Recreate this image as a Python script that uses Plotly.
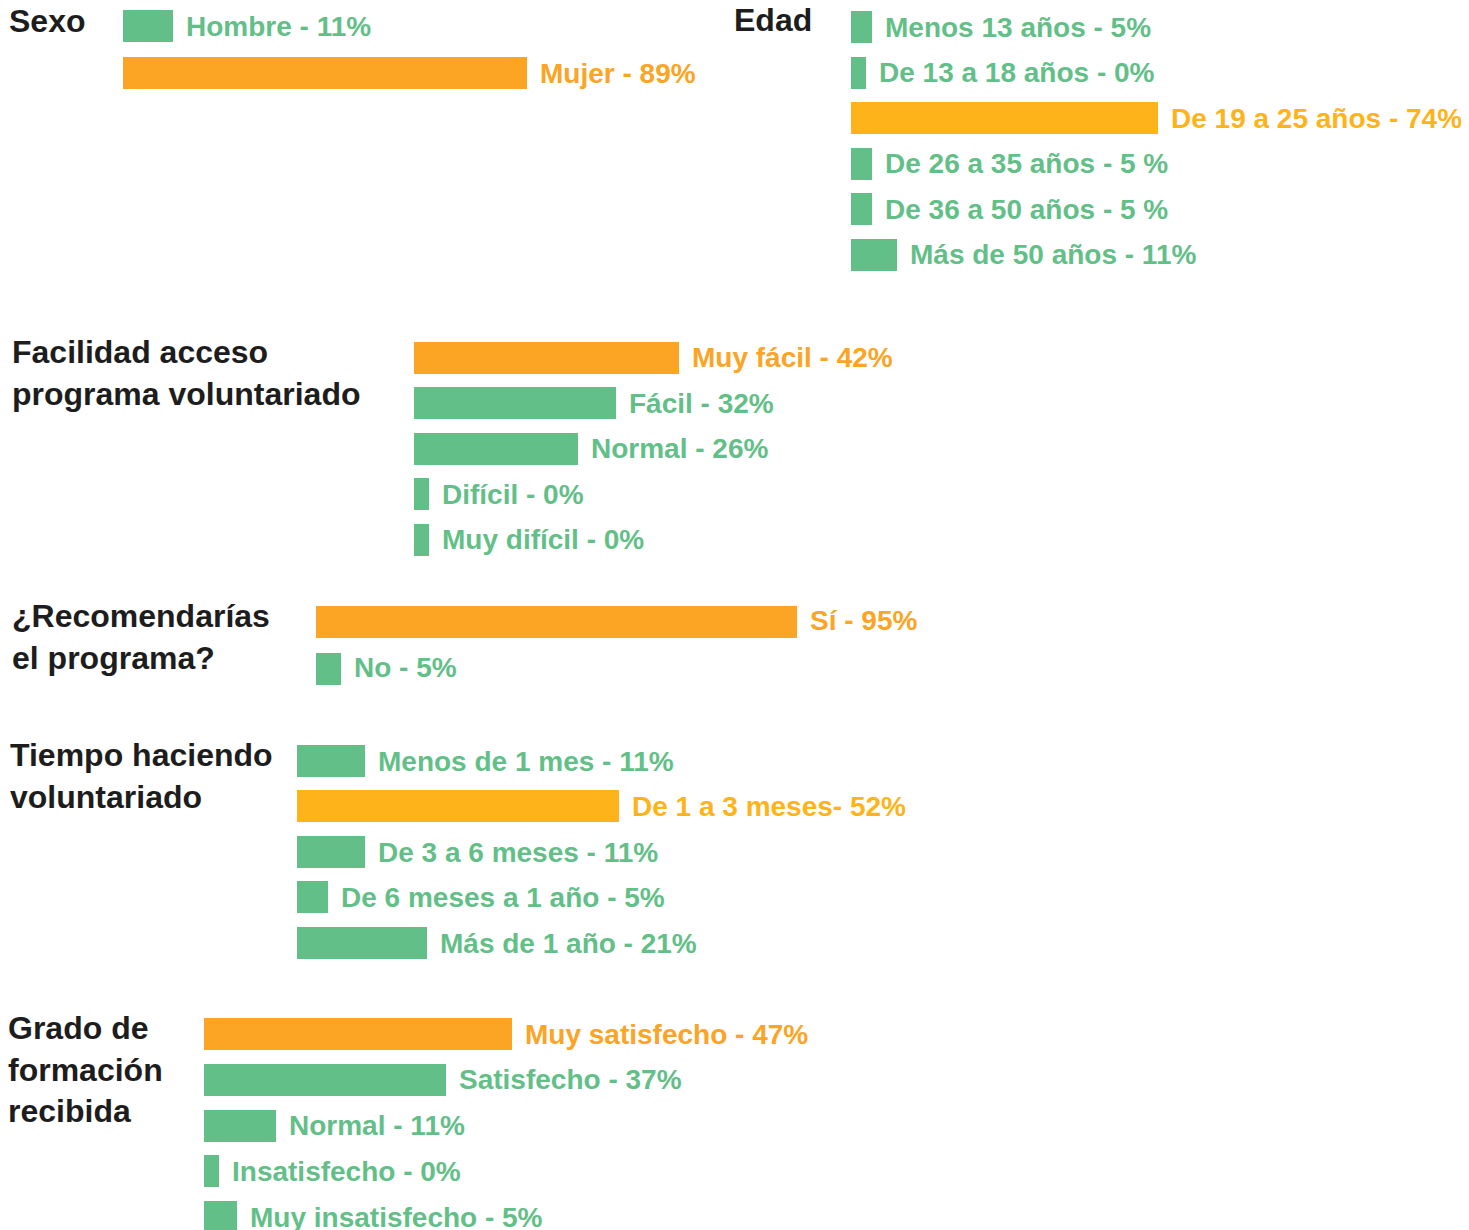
import plotly.graph_objects as go

# The page body adds an 8px margin; the figure is placed accordingly.
OFF = 8
W, H = 1469 - OFF, 1230 - OFF

GREEN = "#63BF88"
ORANGE = "#FCA424"
YELLOW = "#FFB31B"

# ---------------- data ----------------
sexo_title = "Sexo"
sexo_labels = ["Hombre - 11%", "Mujer - 89%"]
sexo_values = [11, 89]
sexo_colors = [GREEN, ORANGE]

edad_title = "Edad"
edad_labels = ["Menos 13 años - 5%", "De 13 a 18 años - 0%", "De 19 a 25 años - 74%",
               "De 26 a 35 años - 5 %", "De 36 a 50 años - 5 %", "Más de 50 años - 11%"]
edad_values = [5, 0, 74, 5, 5, 11]
edad_colors = [GREEN, GREEN, YELLOW, GREEN, GREEN, GREEN]

acceso_title = "Facilidad acceso<br>programa voluntariado"
acceso_labels = ["Muy fácil - 42%", "Fácil - 32%", "Normal - 26%", "Difícil - 0%", "Muy difícil - 0%"]
acceso_values = [42, 32, 26, 0, 0]
acceso_colors = [ORANGE, GREEN, GREEN, GREEN, GREEN]

recom_title = "¿Recomendarías<br>el programa?"
recom_labels = ["Sí - 95%", "No - 5%"]
recom_values = [95, 5]
recom_colors = [ORANGE, GREEN]

tiempo_title = "Tiempo haciendo<br>voluntariado"
tiempo_labels = ["Menos de 1 mes - 11%", "De 1 a 3 meses- 52%", "De 3 a 6 meses - 11%",
                 "De 6 meses a 1 año - 5%", "Más de 1 año - 21%"]
tiempo_values = [11, 52, 11, 5, 21]
tiempo_colors = [GREEN, YELLOW, GREEN, GREEN, GREEN]

grado_title = "Grado de<br>formación<br>recibida"
grado_labels = ["Muy satisfecho - 47%", "Satisfecho - 37%", "Normal - 11%",
                "Insatisfecho - 0%", "Muy insatisfecho - 5%"]
grado_values = [47, 37, 11, 0, 5]
grado_colors = [ORANGE, GREEN, GREEN, GREEN, GREEN]

# ---------------- layout (page pixels) ----------------
# x0: bar start, s: px per %, c0: first row centre, p: row pitch, tx/ty: title position
groups = [
    dict(title=sexo_title, labels=sexo_labels, values=sexo_values, colors=sexo_colors,
         x0=123, s=4.54, c0=26, p=47, tx=7, ty=1),
    dict(title=edad_title, labels=edad_labels, values=edad_values, colors=edad_colors,
         x0=851, s=4.15, c0=27, p=45.5, tx=732, ty=0),
    dict(title=acceso_title, labels=acceso_labels, values=acceso_values, colors=acceso_colors,
         x0=414, s=6.3, c0=358, p=45.5, tx=10, ty=332),
    dict(title=recom_title, labels=recom_labels, values=recom_values, colors=recom_colors,
         x0=316, s=5.06, c0=621, p=47, tx=10, ty=596),
    dict(title=tiempo_title, labels=tiempo_labels, values=tiempo_values, colors=tiempo_colors,
         x0=297, s=6.2, c0=761, p=45.5, tx=8, ty=735),
    dict(title=grado_title, labels=grado_labels, values=grado_values, colors=grado_colors,
         x0=204, s=6.55, c0=1034, p=45.8, tx=6, ty=1008),
]

BAR_PX = 32
MIN_BAR_PX = 15
FONT = "Liberation Sans, Arial, sans-serif"

fig = go.Figure()
annotations = []
layout_axes = {}

for i, g in enumerate(groups):
    k = i + 1
    xa = "x" if k == 1 else f"x{k}"
    ya = "y" if k == 1 else f"y{k}"
    n = len(g["values"])
    x0 = g["x0"] - OFF
    c0 = g["c0"] - OFF
    disp = [max(v, MIN_BAR_PX / g["s"]) for v in g["values"]]
    rows = list(range(n))
    fig.add_trace(go.Bar(
        x=disp, y=rows, orientation="h",
        marker=dict(color=g["colors"], line=dict(width=0)),
        width=BAR_PX / g["p"],
        xaxis=xa, yaxis=ya, hoverinfo="skip", showlegend=False,
    ))
    T = max(0, c0 - g["p"] / 2)
    B = min(H, c0 + (n - 0.5) * g["p"])
    layout_axes["xaxis" if k == 1 else f"xaxis{k}"] = dict(
        domain=[x0 / W, 1], range=[0, (W - x0) / g["s"]],
        visible=False, fixedrange=True, anchor=ya)
    layout_axes["yaxis" if k == 1 else f"yaxis{k}"] = dict(
        domain=[1 - B / H, 1 - T / H],
        range=[(B - c0) / g["p"], (T - c0) / g["p"]],
        visible=False, fixedrange=True, anchor=xa)
    for j in rows:
        annotations.append(dict(
            text=g["labels"][j], x=disp[j], y=j, xref=xa, yref=ya,
            xanchor="left", yanchor="middle", xshift=11, yshift=0, showarrow=False,
            font=dict(family=FONT, size=28, color=g["colors"][j], weight=700)))
    annotations.append(dict(
        text=g["title"], x=(g["tx"] - OFF) / W, y=1 - (g["ty"] - OFF) / H,
        xref="paper", yref="paper",
        xanchor="left", yanchor="top", align="left", showarrow=False,
        font=dict(family=FONT, size=32, color="#1d1d1d", weight=700)))

fig.update_layout(
    width=W, height=H,
    margin=dict(l=0, r=0, t=0, b=0),
    paper_bgcolor="white", plot_bgcolor="rgba(0,0,0,0)",
    annotations=annotations,
    bargap=0,
    **layout_axes,
)

fig.write_html("out.html")
